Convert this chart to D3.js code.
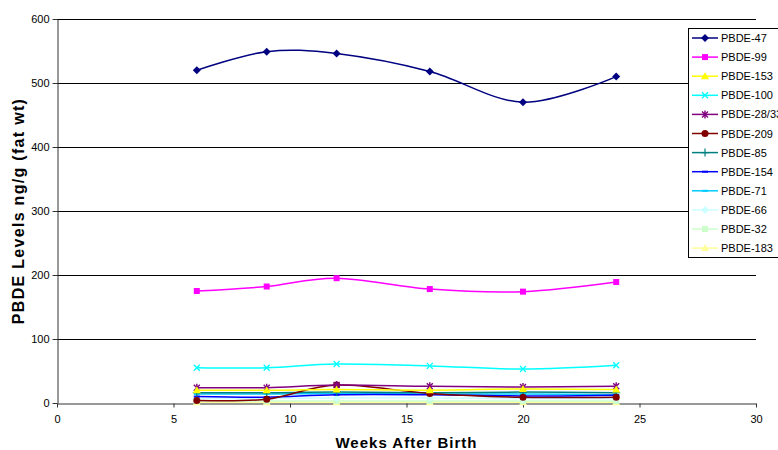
<!DOCTYPE html>
<html>
<head>
<meta charset="utf-8">
<script src="https://cdn.jsdelivr.net/npm/d3@7"></script>
<style>
  html, body { margin: 0; padding: 0; background: #fff; }
  svg { display: block; font-family: "Liberation Sans", Arial, sans-serif; }
</style>
</head>
<body>
<svg id="chart" width="778" height="450"></svg>
<script>
// Sampling weeks after birth
const weeks = [6, 9, 12, 16, 20, 24];

// Congener names, in legend order
const congeners = ["PBDE-47", "PBDE-99", "PBDE-153", "PBDE-100", "PBDE-28/33", "PBDE-209",
                   "PBDE-85", "PBDE-154", "PBDE-71", "PBDE-66", "PBDE-32", "PBDE-183"];

// Levels, ng/g fat weight
const pbde47  = [520, 549, 546, 518, 470, 510];
const pbde99  = [175, 182, 195, 178, 174, 189];
const pbde153 = [20, 20, 21, 20, 22, 21];
const pbde100 = [55, 55, 61, 58, 53, 59];
const pbde28  = [24, 24, 28, 26, 25, 26];
const pbde209 = [4, 6, 28, 15, 9, 9];
const pbde85  = [16, 16, 17, 16, 17, 16];
const pbde154 = [10, 9, 13, 13, 11, 12];
const pbde71  = [14, 14, 15, 14, 14, 13];
const pbde66  = [7, 7, 8, 8, 7, 7];
const pbde32  = [3, 3, 3, 3, 3, 3];
const pbde183 = [1, 1, 1, 1, 1, 1];

const seriesValues = [pbde47, pbde99, pbde153, pbde100, pbde28, pbde209,
                      pbde85, pbde154, pbde71, pbde66, pbde32, pbde183];

// Axis ticks
const xTicks = [0, 5, 10, 15, 20, 25, 30];
const yTicks = [0, 100, 200, 300, 400, 500, 600];

// Line colours and marker shapes
const colors = ["#000080", "#FF00FF", "#FFFF00", "#00FFFF", "#800080", "#800000",
                "#008080", "#0000FF", "#00CCFF", "#CCFFFF", "#CCFFCC", "#FFFF99"];
const shapes = ["diamond", "square", "triangle", "x", "star", "circle",
                "plus", "dash", "dash", "diamond", "square", "triangle"];

const svg = d3.select("#chart");
const margin = { left: 57, right: 756, top: 19, bottom: 403 };

const x = d3.scaleLinear().domain([0, 30]).range([margin.left, margin.right]);
const y = d3.scaleLinear().domain([0, 600]).range([margin.bottom, margin.top]);

// Horizontal gridlines
svg.append("g")
  .selectAll("line")
  .data(yTicks.filter(d => d > 0))
  .join("line")
  .attr("x1", margin.left).attr("x2", margin.right)
  .attr("y1", d => y(d) + 0.5).attr("y2", d => y(d) + 0.5)
  .attr("stroke", "#000").attr("stroke-width", 1);

// Axes
const yAxis = svg.append("g")
  .attr("transform", `translate(${margin.left + 0.5},0)`)
  .call(d3.axisLeft(y).tickValues(yTicks).tickSize(5).tickSizeOuter(0).tickPadding(3));
const xAxis = svg.append("g")
  .attr("transform", `translate(0,${margin.bottom + 0.5})`)
  .call(d3.axisBottom(x).tickValues(xTicks).tickSize(4).tickSizeOuter(0).tickPadding(8));

[yAxis, xAxis].forEach(g => {
  g.select(".domain").attr("stroke", "#333");
  g.selectAll(".tick line").attr("stroke", "#333");
  g.selectAll(".tick text").attr("font-size", 11).attr("fill", "#000")
    .attr("font-family", "Liberation Sans, Arial, sans-serif");
});

// Axis titles
svg.append("text")
  .attr("x", (margin.left + margin.right) / 2).attr("y", 448)
  .attr("text-anchor", "middle").attr("font-size", 15).attr("font-weight", "bold")
  .attr("letter-spacing", 1)
  .text("Weeks After Birth");
svg.append("text")
  .attr("transform", `translate(24,${(margin.top + margin.bottom) / 2}) rotate(-90)`)
  .attr("text-anchor", "middle").attr("font-size", 16).attr("font-weight", "bold")
  .attr("letter-spacing", 1.3)
  .text("PBDE Levels ng/g (fat wt)");

// Marker drawing
function drawMarker(g, shape, color) {
  const s = 3;
  if (shape === "diamond") {
    g.append("path").attr("d", `M0,${-s - 1}L${s + 1},0L0,${s + 1}L${-s - 1},0Z`).attr("fill", color);
  } else if (shape === "square") {
    g.append("rect").attr("x", -s).attr("y", -s).attr("width", 2 * s).attr("height", 2 * s).attr("fill", color);
  } else if (shape === "triangle") {
    g.append("path").attr("d", `M0,${-s - 1}L${s + 1},${s}L${-s - 1},${s}Z`).attr("fill", color);
  } else if (shape === "x") {
    g.append("path").attr("d", `M${-s},${-s}L${s},${s}M${-s},${s}L${s},${-s}`)
      .attr("stroke", color).attr("stroke-width", 1.3);
  } else if (shape === "star") {
    g.append("path").attr("d", `M${-s},${-s}L${s},${s}M${-s},${s}L${s},${-s}M0,${-s - 1}L0,${s + 1}`)
      .attr("stroke", color).attr("stroke-width", 1.4);
  } else if (shape === "circle") {
    g.append("circle").attr("r", s + 0.5).attr("fill", color);
  } else if (shape === "plus") {
    g.append("path").attr("d", `M${-s - 1},0L${s + 1},0M0,${-s - 1}L0,${s + 1}`)
      .attr("stroke", color).attr("stroke-width", 1.2);
  } else if (shape === "dash") {
    g.append("path").attr("d", `M${-s},0L${s},0`).attr("stroke", color).attr("stroke-width", 2);
  }
}

// Smoothed series lines, drawn last-first so the large series sit on top
const line = d3.line()
  .x((d, i) => x(weeks[i]))
  .y(d => y(d))
  .curve(d3.curveCardinal.tension(0));

const plot = svg.append("g");
for (let k = congeners.length - 1; k >= 0; k--) {
  const vals = seriesValues[k];
  const g = plot.append("g");
  g.append("path").datum(vals).attr("d", line)
    .attr("fill", "none").attr("stroke", colors[k]).attr("stroke-width", 1.5);
  vals.forEach((v, i) => {
    const m = g.append("g").attr("transform", `translate(${x(weeks[i])},${y(v)})`);
    drawMarker(m, shapes[k], colors[k]);
  });
}

// Legend (its right side runs past the chart edge)
const legend = svg.append("g");
legend.append("rect")
  .attr("x", 688.5).attr("y", 28.5).attr("width", 100).attr("height", 229)
  .attr("fill", "#fff").attr("stroke", "#000").attr("stroke-width", 1);
congeners.forEach((name, k) => {
  const ly = 38 + k * 19.1;
  const row = legend.append("g").attr("transform", `translate(0,${ly})`);
  row.append("line").attr("x1", 692).attr("x2", 718).attr("y1", 0).attr("y2", 0)
    .attr("stroke", colors[k]).attr("stroke-width", 1.5);
  drawMarker(row.append("g").attr("transform", "translate(705,0)"), shapes[k], colors[k]);
  row.append("text").attr("x", 721).attr("y", 4).attr("font-size", 11).text(name);
});
</script>
</body>
</html>
